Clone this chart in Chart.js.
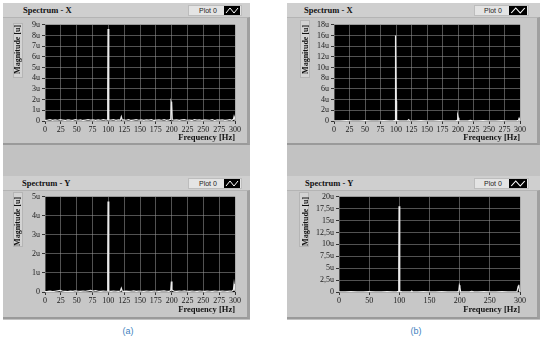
<!DOCTYPE html>
<html><head><meta charset="utf-8">
<script src="https://cdn.jsdelivr.net/npm/chart.js@4/dist/chart.umd.min.js"></script>
<style>
body{margin:0;width:545px;height:341px;background:#fff;position:relative;overflow:hidden;font-family:"Liberation Serif",serif}
.a{position:absolute;box-sizing:border-box}
.bg{background:#c2c2c2}
.strip{background:#cfcfcf}
.body{background:#c7c7c7;border-right:3px solid #a0a0a0;border-bottom:2px solid #9a9a9a;border-top:1px solid #b4b4b4}
.ttl{font:bold 8.5px "Liberation Serif",serif;color:#111}
.leg{background:#e4e4e4;border:1px solid #bdbdbd;font:7px "Liberation Sans",sans-serif;color:#222}
.mbox{background:#d3d3d3;border:1px solid #b5b5b5}
.cap{font:9px "Liberation Sans",sans-serif;color:#3f7fc0}
canvas{position:absolute}
</style></head><body>
<script>
// ---- DATA ----
// (a) Spectrum - X, magnitude in u
const freqAX = [0,4,8,12,16,20,24,28,32,36,40,44,48,52,56,60,64,68,72,76,80,84,88,92,96,98.5,99,99.5,100.5,101,104,108,112,116,119,120.5,122,124,128,132,136,140,144,148,152,156,160,164,168,172,176,180,184,188,192,196,198.5,199,199.5,200.5,201,204,208,212,216,220,224,228,232,236,240,244,248,252,256,260,264,268,272,276,280,284,288,292,295,297.5,298.5,299.5,300];
const magAX  = [0.05,0.08,0.12,0.06,0.1,0.07,0.13,0.09,0.05,0.11,0.08,0.06,0.12,0.07,0.1,0.05,0.09,0.13,0.08,0.11,0.06,0.1,0.07,0.12,0.09,0.1,2.7,8.6,1.9,0.1,0.08,0.12,0.06,0.1,0.09,0.4,0.08,0.11,0.07,0.12,0.05,0.09,0.13,0.07,0.1,0.06,0.11,0.08,0.12,0.05,0.09,0.1,0.07,0.12,0.06,0.1,0.15,1.8,1.6,1.7,0.12,0.08,0.11,0.06,0.1,0.13,0.07,0.09,0.05,0.12,0.08,0.1,0.06,0.11,0.09,0.07,0.12,0.05,0.1,0.08,0.11,0.06,0.09,0.12,0.07,0.15,0.42,0.2,0.1];
// (a) Spectrum - Y
const freqAY = [0,4,8,12,16,20,24,28,32,36,40,44,48,52,56,60,64,68,72,76,80,84,88,92,96,98.5,99,99.5,100.5,101,104,108,112,116,119,120.5,122,124,128,132,136,140,144,148,152,156,160,164,168,172,176,180,184,188,192,196,198.5,199.5,200.5,204,208,212,216,220,224,228,232,236,240,244,248,252,256,260,264,268,272,276,280,284,288,292,295,297.5,298.5,299.5,300];
const magAY  = [0.02,0.03,0.05,0.02,0.04,0.06,0.08,0.04,0.03,0.02,0.05,0.03,0.06,0.04,0.03,0.05,0.04,0.06,0.08,0.05,0.07,0.04,0.03,0.05,0.04,0.05,1.5,4.75,1.0,0.05,0.03,0.05,0.04,0.03,0.05,0.2,0.04,0.03,0.05,0.03,0.04,0.06,0.03,0.05,0.04,0.03,0.05,0.04,0.03,0.05,0.04,0.03,0.05,0.06,0.04,0.03,0.08,0.55,0.1,0.04,0.03,0.05,0.04,0.06,0.04,0.03,0.05,0.04,0.03,0.05,0.04,0.03,0.05,0.04,0.03,0.05,0.04,0.03,0.05,0.04,0.03,0.05,0.04,0.1,0.42,0.15,0.05];
// (b) Spectrum - X
const freqBX = [0,10,20,30,40,50,60,70,80,90,96,98.5,99,99.5,100.5,101,104,110,116,119,120.5,122,130,140,150,160,170,180,190,196,198.5,199.5,200.5,201.5,204,210,216,220,224,230,240,250,260,270,280,290,295,297.5,298.5,299.5,300];
const magBX  = [0.05,0.04,0.06,0.05,0.04,0.06,0.05,0.04,0.06,0.05,0.06,0.1,4.0,16.0,3.8,0.1,0.06,0.05,0.04,0.05,0.25,0.05,0.04,0.06,0.05,0.04,0.06,0.05,0.04,0.05,0.1,1.1,0.6,0.08,0.05,0.04,0.05,0.12,0.05,0.04,0.06,0.05,0.04,0.06,0.05,0.04,0.06,0.15,0.5,0.15,0.05];
// (b) Spectrum - Y
const freqBY = [0,10,20,30,40,50,60,70,80,90,96,98.5,99,99.5,100.5,101,104,110,116,119,120.5,122,130,140,150,160,170,180,190,196,198.5,199.5,200.5,201.5,204,210,216,220,224,230,240,250,260,270,280,290,295,297,298,299,300];
const magBY  = [0.05,0.04,0.06,0.05,0.04,0.06,0.05,0.04,0.06,0.05,0.06,0.1,4.5,18.0,4.3,0.1,0.06,0.05,0.04,0.05,0.2,0.05,0.04,0.06,0.05,0.04,0.06,0.05,0.04,0.05,0.15,1.4,1.0,0.08,0.05,0.04,0.05,0.12,0.05,0.04,0.06,0.05,0.04,0.06,0.05,0.04,0.06,1.2,1.5,0.3,0.05];
// axis ranges / tick steps
const yMaxes  = [9, 5, 18, 20];
const ySteps  = [1, 1, 2, 2.5];
const xSteps  = [25, 25, 25, 50];
const titles  = ["Spectrum - X", "Spectrum - Y", "Spectrum - X", "Spectrum - Y"];
const legendText = "Plot 0";
const xTitle = "Frequency [Hz]";
const yTitle = "Magnitude [u]";
const captions = ["(a)", "(b)"];

// ---- LAYOUT (decoration) ----
function div(cls, x, y, w, h, html){
  const d=document.createElement('div');d.className='a '+cls;
  d.style.left=x+'px';d.style.top=y+'px';d.style.width=w+'px';d.style.height=h+'px';
  if(html!==undefined)d.innerHTML=html;document.body.appendChild(d);return d;
}
const cols=[{x:3,w:247},{x:287,w:253}];
cols.forEach(c=>{
  div('bg',c.x,3,c.w,317);
  div('strip',c.x,3,c.w,14);
  div('body',c.x,17,c.w,128);
  div('strip',c.x,176,c.w,14);
  div('body',c.x,190,c.w,129);
});
// titles
const tpos=[[23,4],[22,177],[304,4],[305,177]];
tpos.forEach((p,i)=>{const d=div('ttl',p[0],p[1],90,12,titles[i]);d.style.lineHeight='12px';});
// legends
const icon='<svg width="100%" height="100%" viewBox="0 0 16 9" preserveAspectRatio="none" style="display:block"><polyline points="2,7 6,2 10,7 14,2" fill="none" stroke="#fff" stroke-width="1"/></svg>';
const lpos=[[188,5,199,224,16],[188,178,199,224,16],[474,5,484,509,18],[474,178,484,509,18]];
lpos.forEach(p=>{
  div('leg',p[0],p[1],p[3]+p[4]-p[0]+2,11);
  const t=div('',p[2],p[1],30,11,legendText);t.style.font='7px "Liberation Sans",sans-serif';t.style.lineHeight='11px';t.style.color='#222';
  const ic=div('',p[3],p[1]+1,p[4],9,icon);ic.style.background='#000';
});
// magnitude label boxes
const mpos=[[13,23,10,55],[13,192,10,55],[300,20,10,58],[299,192,10,55]];
mpos.forEach(p=>div('mbox',p[0],p[1],p[2],p[3]));
// captions
const c1=div('cap',118,326,20,12,captions[0]);c1.style.textAlign='center';
const c2=div('cap',406,326,20,12,captions[1]);c2.style.textAlign='center';

// ---- CHARTS ----
const blackArea={id:'blackArea',beforeDraw(ch){const a=ch.chartArea,c=ch.ctx;c.save();c.fillStyle='#000';c.fillRect(a.left,a.top,a.right-a.left,a.bottom-a.top);c.restore();}};
// canvas box: left, top, width, height, padTop, padRight, yWidth, xHeight
const boxes=[[10,18,232,127,5,6,35,24],[10,190,232,127,6,7,35,25],[298,18,229,127,6,4,36,24],[298,190,229,127,6,4,41,25]];
const freqs=[freqAX,freqAY,freqBX,freqBY], mags=[magAX,magAY,magBX,magBY];
function fmt(v){ if(v===0) return '0'; return String(v).replace('.',',')+'u'; }
boxes.forEach((b,i)=>{
  const cv=document.createElement('canvas');
  cv.style.left=b[0]+'px';cv.style.top=b[1]+'px';cv.width=b[2];cv.height=b[3];
  cv.style.width=b[2]+'px';cv.style.height=b[3]+'px';
  document.body.appendChild(cv);
  const pts=freqs[i].map((f,k)=>({x:f,y:mags[i][k]}));
  new Chart(cv,{
    type:'line',
    data:{datasets:[{data:pts,borderColor:'#ececec',borderWidth:1.2,pointRadius:0,tension:0,fill:false}]},
    options:{
      responsive:false,animation:false,
      layout:{autoPadding:false,padding:{left:0,top:b[4],right:b[5],bottom:0}},
      plugins:{legend:{display:false},tooltip:{enabled:false}},
      scales:{
        x:{type:'linear',min:0,max:300,
          afterFit:s=>{s.height=b[7];},
          ticks:{stepSize:xSteps[i],autoSkip:false,maxRotation:0,padding:1,color:'#1a1a1a',font:{family:'Liberation Serif',size:8}},
          grid:{color:'rgba(150,150,150,0.55)',lineWidth:1,tickLength:3,tickColor:'#333'},
          border:{display:false},
          title:{display:true,text:xTitle,align:'end',color:'#111',padding:{top:0,bottom:2},font:{family:'Liberation Serif',size:8.5,weight:'bold'}}
        },
        y:{type:'linear',min:0,max:yMaxes[i],
          afterFit:s=>{s.width=b[6];},
          ticks:{stepSize:ySteps[i],autoSkip:false,padding:2,color:'#1a1a1a',font:{family:'Liberation Serif',size:8},callback:v=>fmt(v)},
          grid:{color:'rgba(150,150,150,0.55)',lineWidth:1,tickLength:3,tickColor:'#333'},
          border:{display:false},
          title:{display:true,text:yTitle,align:'end',color:'#111',padding:{top:3,bottom:0},font:{family:'Liberation Serif',size:8,weight:'bold'}}
        }
      }
    },
    plugins:[blackArea]
  });
});
</script>
</body></html>
